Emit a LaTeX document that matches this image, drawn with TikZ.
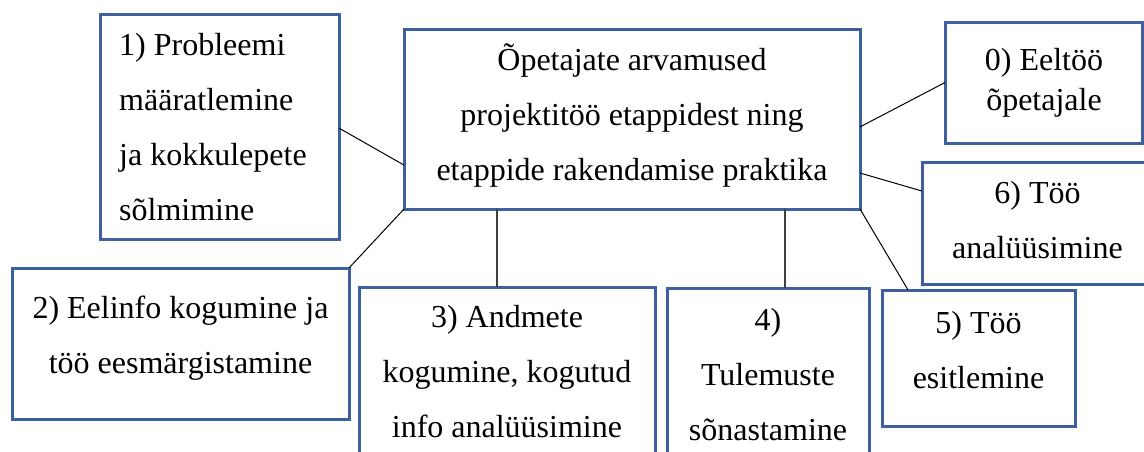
\documentclass[tikz,border=0pt]{standalone}
\usepackage{fontspec}
\setmainfont{Liberation Serif}
\newfontfamily\tnr{Liberation Serif}
\usetikzlibrary{calc}
\definecolor{boxblue}{RGB}{62,96,160}
\definecolor{vgray}{RGB}{64,64,64}
\newcommand{\fl}{\rule{0pt}{30pt}}
\begin{document}
\begin{tikzpicture}[x=1pt,y=-1pt,
  box/.style={draw=boxblue, line width=3pt, rectangle, outer sep=0pt, inner sep=0pt},
  txt/.style={inner sep=0pt, anchor=north, align=center, font=\tnr\fontsize{32}{55}\selectfont},
  conn/.style={draw=black, line width=1pt},
  vconn/.style={draw=vgray, line width=1.4pt}]
\clip (0,0) rectangle (1144,451);
\fill[white] (0,0) rectangle (1144,451);
% boxes (geometry)
\node[box, minimum width=456pt, minimum height=180pt] (c)  at (632,119) {};
\node[box, minimum width=239pt, minimum height=225pt] (b1) at (219.5,126.5) {};
\node[box, minimum width=197.5pt, minimum height=121pt] (b0) at (1043.75,82.5) {};
\node[box, minimum width=231pt, minimum height=122pt] (b6) at (1037.5,223) {};
\node[box, minimum width=337pt, minimum height=151pt] (b2) at (180.5,343.5) {};
\node[box, minimum width=296pt, minimum height=213pt] (b3) at (507,393.5) {};
\node[box, minimum width=202pt, minimum height=212pt] (b4) at (768,394) {};
\node[box, minimum width=193pt, minimum height=136pt] (b5) at (978.5,358) {};
% texts
\node[txt] (tc) at (632,40) {\fl Õpetajate arvamused\\projektitöö etappidest ning\\etappide rakendamise praktika};
\node[txt, anchor=north west, align=left] (t1) at (119,25) {\fl 1) Probleemi\\määratlemine\\ja kokkulepete\\sõlmimine};
\node[txt] (t0) at (1044,40) {\fl 0) Eeltöö\\[-15pt]õpetajale};
\node[txt] (t6) at (1037.5,173) {\fl 6) Töö\\analüüsimine};
\node[txt] (t2) at (180.5,288) {\fl 2) Eelinfo kogumine ja\\töö eesmärgistamine};
\node[txt] (t3) at (507,297) {\fl 3) Andmete\\kogumine, kogutud\\info analüüsimine};
\node[txt] (t4) at (768,300) {\fl 4)\\Tulemuste\\sõnastamine};
\node[txt] (t5) at (978.5,303) {\fl 5) Töö\\esitlemine};
% connector end points
\path ($(c.south west)!0.204!(c.south east)$) coordinate (p3)
      ($(c.south west)!0.8355!(c.south east)$) coordinate (p4);
% connectors
\draw[conn] ($(b1.north east)!0.507!(b1.south east)$) -- ($(c.north west)!0.756!(c.south west)$);
\draw[conn] (c.south west) -- (b2.north east);
\draw[vconn] (p3) -- (p3 |- b3.north);
\draw[vconn] (p4) -- (p4 |- b4.north);
\draw[conn] (c.south east) -- ($(b5.north west)!0.135!(b5.north east)$);
\draw[conn] ($(c.north east)!0.8!(c.south east)$) -- ($(b6.north west)!0.238!(b6.south west)$);
\draw[conn] ($(c.north east)!0.544!(c.south east)$) -- (b0.west);
\end{tikzpicture}
\end{document}
